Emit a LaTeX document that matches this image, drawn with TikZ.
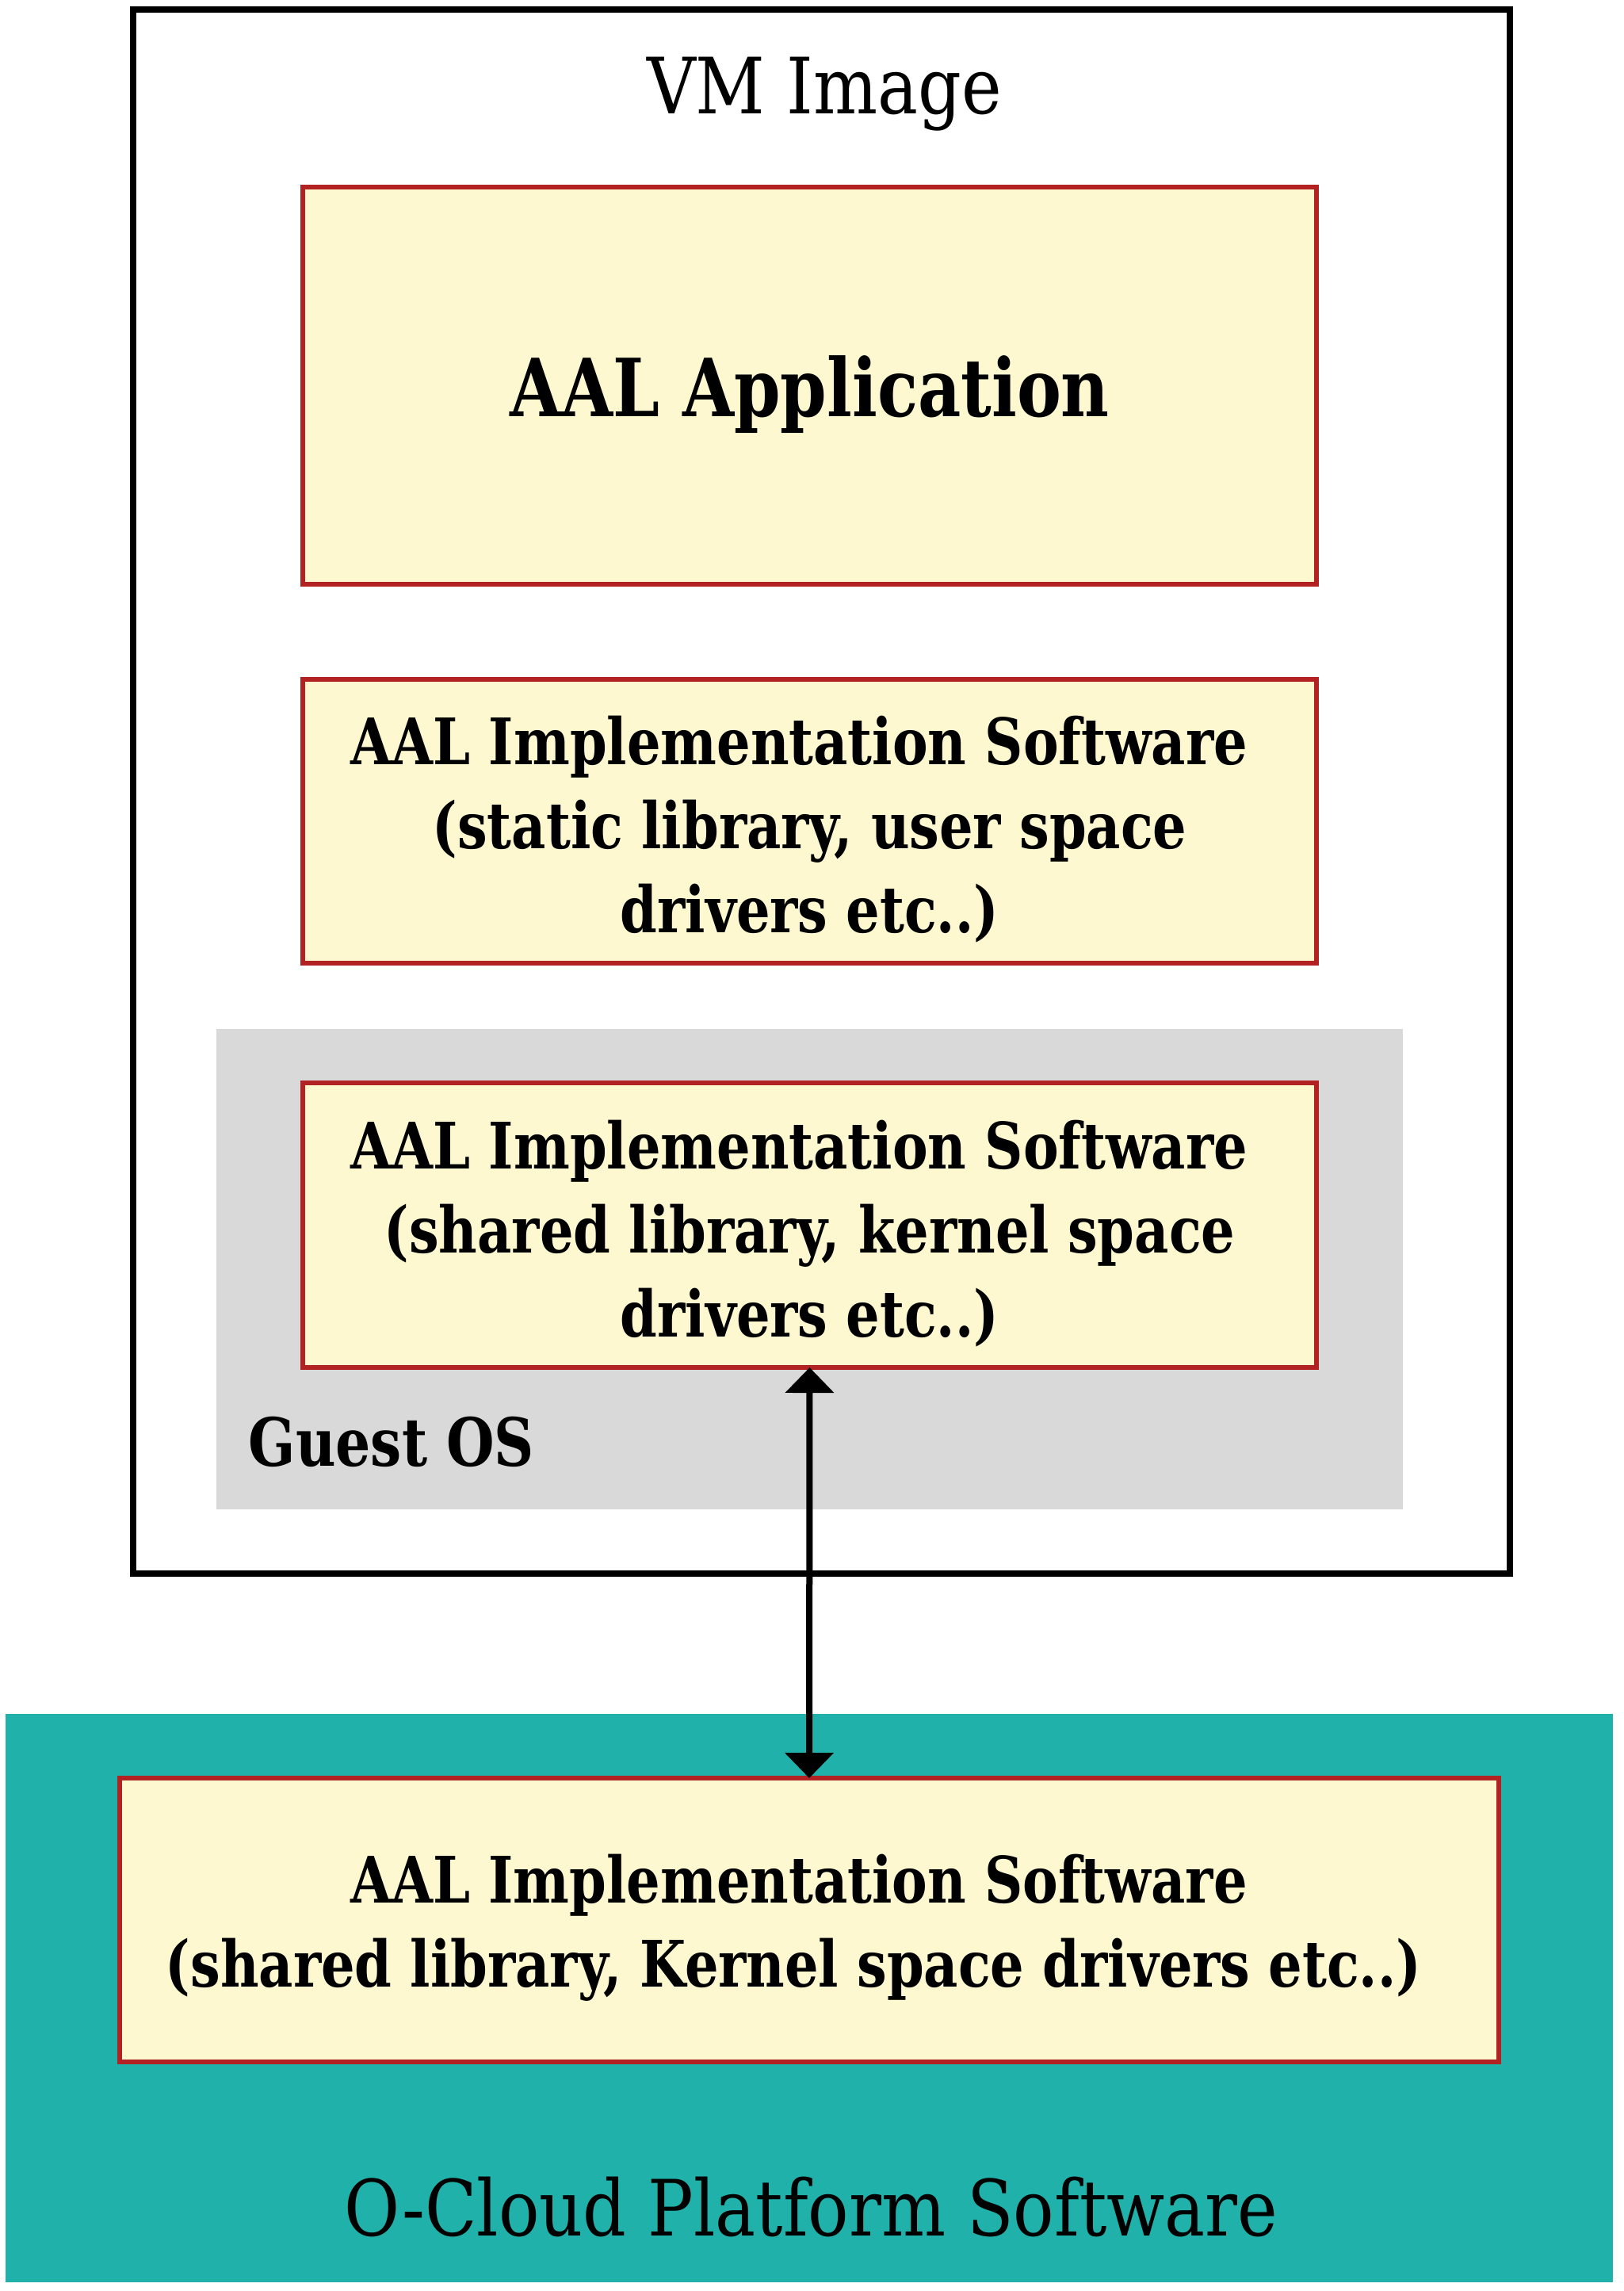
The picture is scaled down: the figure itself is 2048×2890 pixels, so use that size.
\documentclass[tikz,border=0pt]{standalone}
\usepackage{fontspec}
\setmainfont[FakeStretch=0.97, BoldFeatures={FakeStretch=0.92}]{DejaVu Serif Condensed}
\usetikzlibrary{arrows.meta}
\definecolor{boxfill}{HTML}{FDF8CF}
\definecolor{boxred}{HTML}{B22222}
\definecolor{tealbg}{HTML}{20B2AA}
\definecolor{guestgray}{HTML}{D9D9D9}
\newcommand{\trail}[1]{\hspace*{#1}}
\tikzset{
  aalbox/.style={draw=boxred, fill=boxfill, line width=1.4pt, inner sep=0pt, outer sep=0pt},
  aaltext/.style={inner sep=0pt, align=center, font=\bfseries\fontsize{20.2}{26.5}\selectfont},
  plainbox/.style={inner sep=0pt, outer sep=0pt},
  biglabel/.style={inner sep=0pt, anchor=base, font=\fontsize{24.5}{29}\selectfont},
  link/.style={line width=2pt, {Triangle[width=15pt,length=8pt]}-{Triangle[width=15pt,length=8pt]}}
}
\begin{document}
\begin{tikzpicture}[x=0.25pt,y=-0.25pt]
\useasboundingbox (0,0) rectangle (2048,2890);
% outer VM box
\node[plainbox, draw=black, line width=1.9pt, minimum width=434.25pt, minimum height=493.25pt] (vm) at (1036.5,998.5) {};
\node[biglabel] (vmlabel) at (1040,144) {VM Image};
% guest OS
\node[plainbox, fill=guestgray, minimum width=374.25pt, minimum height=151.5pt] (guest) at (1021.5,1601) {};
\node[inner sep=0pt, anchor=base west, font=\bfseries\fontsize{21}{25}\selectfont] (guestlabel) at (313,1849) {Guest OS};
% boxes
\node[aalbox, minimum width=319.75pt, minimum height=125.25pt] (app) at (1021.5,486.5) {};
\node[inner sep=0pt, anchor=base, font=\bfseries\fontsize{25.3}{30}\selectfont] (apptext) at (1021.5,525) {AAL Application};
\node[aalbox, minimum width=319.75pt, minimum height=89.5pt] (stat) at (1021.5,1036) {};
\node[aaltext] (stattext) at (1021.5,1046) {AAL Implementation Software\trail{6.5pt}\\(static library, user space\trail{6.5pt}\\drivers etc..)};
\node[aalbox, minimum width=319.75pt, minimum height=89.75pt] (shrd) at (1021.5,1545.5) {};
\node[aaltext] (shrdtext) at (1021.5,1556) {AAL Implementation Software\trail{6.5pt}\\(shared library, kernel space\trail{6.5pt}\\drivers etc..)};
% O-Cloud platform
\node[plainbox, fill=tealbg, minimum width=507pt, minimum height=179.25pt] (ocloud) at (1021,2520.5) {};
\node[biglabel] (ocloudlabel) at (1023,2820) {O-Cloud Platform Software};
\node[aalbox, minimum width=435pt, minimum height=89.5pt] (bot) at (1021,2422) {};
\node[aaltext] (bottext) at (1021,2432) {AAL Implementation Software\trail{6.5pt}\\(shared library, Kernel space drivers etc..)\trail{10pt}};
% connector
\draw[link] (shrd.south) -- (bot.north);
\end{tikzpicture}
\end{document}
